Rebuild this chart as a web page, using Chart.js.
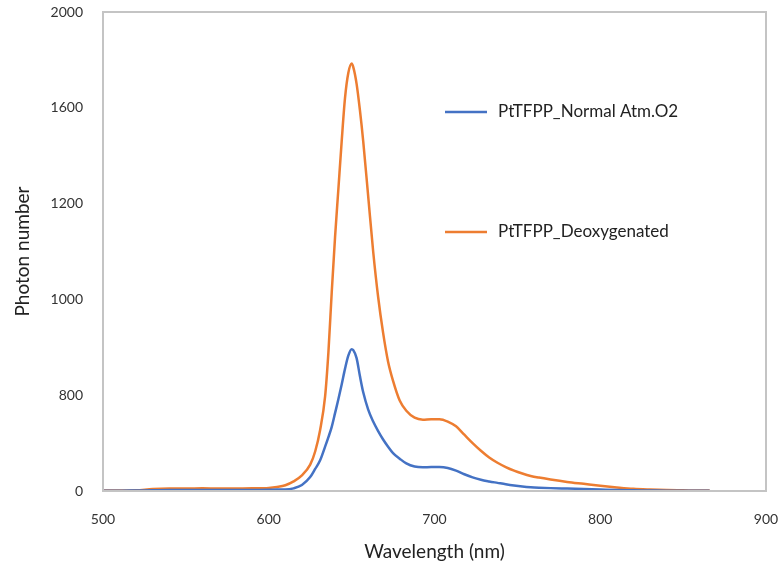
<!DOCTYPE html>
<html>
<head>
<meta charset="utf-8">
<script src="https://cdn.jsdelivr.net/npm/chart.js@4/dist/chart.umd.min.js"></script>
<style>
  body { margin: 0; background: #fff; }
  #wrap { width: 783px; height: 574px; }
</style>
</head>
<body>
<div id="wrap"><canvas id="specChart" width="783" height="574"></canvas></div>
<script>
// emission spectra
const wavelengths = [500, 510, 520, 530, 540, 550, 560, 570, 580, 590, 600, 605, 610, 615, 620, 625, 628, 631, 634, 636, 638, 640, 642, 644, 646, 648, 650, 651, 653, 655, 657, 660, 663, 666, 669, 672, 675, 679, 683, 688, 693, 698, 703, 708, 713, 718, 723, 728, 733, 738, 743, 748, 753, 758, 763, 770, 780, 790, 800, 810, 820, 830, 840, 850, 860, 866];
const normalAtm = [1, 1, 2, 3, 4, 4, 4, 4, 4, 4, 5, 6, 6, 11, 25, 58, 92, 128, 185, 225, 268, 325, 383, 445, 510, 565, 592, 588, 555, 480, 412, 340, 290, 250, 215, 185, 158, 135, 115, 102, 99, 100, 100, 96, 85, 70, 57, 47, 40, 34, 28, 23, 19, 16, 14, 12, 10, 8, 6, 4, 3, 2, 1, 1, 1, 1];
const deoxygenated = [2, 2, 3, 8, 10, 10, 11, 10, 10, 11, 13, 17, 24, 40, 65, 110, 165, 255, 395, 580, 830, 1060, 1260, 1460, 1640, 1745, 1785, 1770, 1700, 1590, 1460, 1230, 1000, 810, 660, 540, 460, 378, 335, 306, 298, 300, 300, 290, 270, 235, 200, 168, 140, 118, 100, 85, 73, 63, 56, 48, 38, 30, 22, 15, 9, 6, 4, 3, 2, 2];
const yTickValues = [0, 400, 800, 1200, 1600, 2000];
const yTickLabels = ['0', '800', '1000', '1200', '1600', '2000'];
const xTickLabels = ['500', '600', '700', '800', '900'];

const toPoints = vals => wavelengths.map((w, i) => ({ x: w, y: vals[i] }));

// grey box round the plot area
const frame = {
  id: 'frame',
  afterDraw(chart) {
    const a = chart.chartArea, c = chart.ctx;
    c.save();
    c.strokeStyle = '#c4c4c4';
    c.lineWidth = 2;
    c.strokeRect(a.left, a.top, a.right - a.left, a.bottom - a.top);
    c.restore();
  }
};

// legend sits inside the plot, one row per series
const innerLegend = {
  id: 'innerLegend',
  afterDraw(chart) {
    const c = chart.ctx;
    const rows = [112, 232];
    c.save();
    c.font = '17px Lato, "Open Sans", sans-serif';
    c.textBaseline = 'middle';
    chart.data.datasets.forEach((ds, i) => {
      c.strokeStyle = ds.borderColor;
      c.lineWidth = 2.5;
      c.beginPath();
      c.moveTo(445, rows[i]);
      c.lineTo(487, rows[i]);
      c.stroke();
      c.fillStyle = '#222';
      c.fillText(ds.label, 498, rows[i]);
    });
    c.restore();
  }
};

const ctx = document.getElementById('specChart').getContext('2d');
const specChart = new Chart(ctx, {
  type: 'line',
  data: {
    datasets: [{
      label: 'PtTFPP_Normal Atm.O2',
      data: toPoints(normalAtm),
      borderColor: '#4472C4',
      borderWidth: 2.5,
      pointRadius: 0,
      cubicInterpolationMode: 'monotone',
      fill: false
    }, {
      label: 'PtTFPP_Deoxygenated',
      data: toPoints(deoxygenated),
      borderColor: '#ED7D31',
      borderWidth: 2.5,
      pointRadius: 0,
      cubicInterpolationMode: 'monotone',
      fill: false
    }]
  },
  options: {
    responsive: false,
    animation: false,
    layout: { padding: { top: 12, right: 17, left: 0, bottom: 0 } },
    plugins: { legend: { display: false }, tooltip: { enabled: false } },
    scales: {
      x: {
        type: 'linear',
        min: 500, max: 900,
        grid: { display: false, drawTicks: false },
        border: { display: false },
        afterBuildTicks: s => { s.ticks = xTickLabels.map(v => ({ value: +v })); },
        ticks: {
          padding: 20,
          color: '#333',
          font: { family: 'Lato, "Open Sans", sans-serif', size: 14 },
          callback: v => String(v)
        },
        title: {
          display: true,
          text: 'Wavelength (nm)',
          color: '#222',
          font: { family: 'Lato, "Open Sans", sans-serif', size: 19 },
          padding: { top: 11, bottom: 11 }
        },
        afterFit: s => { s.height = 83; s.paddingLeft = 0; s.paddingRight = 0; }
      },
      y: {
        min: 0, max: 2000,
        grid: { display: false, drawTicks: false },
        border: { display: false },
        afterBuildTicks: s => { s.ticks = yTickValues.map(v => ({ value: v })); },
        ticks: {
          padding: 20,
          color: '#333',
          font: { family: 'Lato, "Open Sans", sans-serif', size: 14 },
          callback: (v) => yTickLabels[yTickValues.indexOf(v)]
        },
        title: {
          display: true,
          text: 'Photon number',
          color: '#222',
          font: { family: 'Lato, "Open Sans", sans-serif', size: 19 },
          padding: { top: 11, bottom: 11 }
        },
        afterFit: s => { s.width = 103; s.paddingTop = 0; s.paddingBottom = 0; }
      }
    }
  },
  plugins: [frame, innerLegend]
});
</script>
</body>
</html>
